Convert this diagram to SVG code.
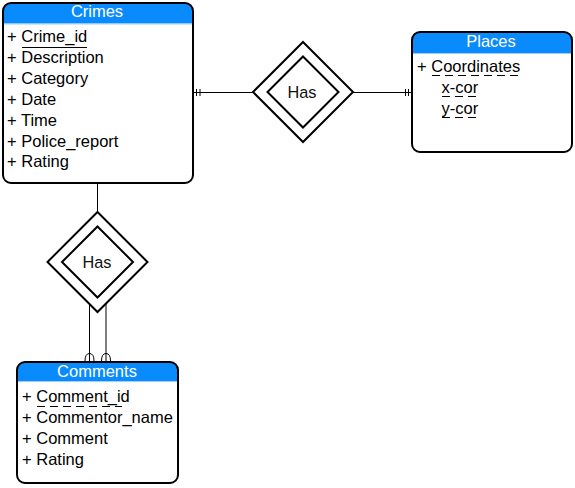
<svg xmlns="http://www.w3.org/2000/svg" width="575" height="488" viewBox="0 0 575 488">
<style>
.box{fill:none;stroke:#000;stroke-width:2}
.bg{fill:#fff}
.hdr{fill:#0a8bfd}
.sep{stroke:#9fd0ff;stroke-width:1}
.title{font-family:"Liberation Sans",Arial,sans-serif;font-size:16.5px;fill:#fff;text-anchor:middle}
.row{font-family:"Liberation Sans",Arial,sans-serif;font-size:16.5px;fill:#000}
.lbl{font-family:"Liberation Sans",Arial,sans-serif;font-size:16.3px;fill:#111;text-anchor:middle}
.dia{fill:#fff;stroke:#000;stroke-width:2}
.ln{fill:none;stroke:#000;stroke-width:1}
.ul{stroke:#000;stroke-width:1}
.dul{stroke:#000;stroke-width:1;stroke-dasharray:8 5}
</style>
<rect width="575" height="488" fill="#fff"/>
<g id="connectors">
<path class="ln" d="M193 92.5H253M196.5 89V96M200 89V96"/>
<path class="ln" d="M353 92.5H412M405.5 89V96M408.5 89V96"/>
<path class="ln" d="M97.5 183V212"/>
<path class="ln" d="M89.5 303V362M106 304V362"/>
<path class="ln" d="M85 361Q85 353.5 89.5 353.5Q94 353.5 94 361M101.5 361Q101.5 353.5 106 353.5Q110.5 353.5 110.5 361"/>
</g>
<g id="crimes">
<rect class="bg" x="3" y="3" width="190" height="180" rx="8"/>
<path class="hdr" d="M3 23.5V11Q3 3 11 3H185Q193 3 193 11V23.5Z"/>
<line class="sep" x1="3" y1="24" x2="193" y2="24"/>
<rect class="box" x="3" y="3" width="190" height="180" rx="8"/>
<text class="title" x="97" y="17">Crimes</text>
<text class="row" x="7" y="42.3">+ Crime_id</text>
<line class="ul" x1="22" y1="47.5" x2="87" y2="47.5"/>
<text class="row" x="7" y="63.1">+ Description</text>
<text class="row" x="7" y="84">+ Category</text>
<text class="row" x="7" y="104.8">+ Date</text>
<text class="row" x="7" y="125.7">+ Time</text>
<text class="row" x="7" y="146.5">+ Police_report</text>
<text class="row" x="7" y="167.4">+ Rating</text>
</g>
<g id="places">
<rect class="bg" x="412" y="32" width="160" height="120" rx="8"/>
<path class="hdr" d="M412 53V40Q412 32 420 32H564Q572 32 572 40V53Z"/>
<line class="sep" x1="412" y1="53.5" x2="572" y2="53.5"/>
<rect class="box" x="412" y="32" width="160" height="120" rx="8"/>
<text class="title" x="491" y="47">Places</text>
<text class="row" x="417" y="72">+ Coordinates</text>
<line class="dul" x1="432" y1="75.5" x2="520" y2="75.5"/>
<text class="row" x="441.5" y="93">x-cor</text>
<line class="dul" x1="442" y1="96.5" x2="480" y2="96.5"/>
<text class="row" x="441.5" y="114">y-cor</text>
<line class="dul" x1="442" y1="117.5" x2="480" y2="117.5"/>
</g>
<g id="comments">
<rect class="bg" x="17" y="362" width="161" height="121" rx="8"/>
<path class="hdr" d="M17 381V370Q17 362 25 362H170Q178 362 178 370V381Z"/>
<line class="sep" x1="17" y1="381.5" x2="178" y2="381.5"/>
<rect class="box" x="17" y="362" width="161" height="121" rx="8"/>
<text class="title" x="97" y="377">Comments</text>
<text class="row" x="22" y="401.5">+ Comment_id</text>
<line class="dul" x1="37" y1="406.5" x2="122" y2="406.5"/>
<text class="row" x="22" y="422.5">+ Commentor_name</text>
<text class="row" x="22" y="443.5">+ Comment</text>
<text class="row" x="22" y="464.5">+ Rating</text>
</g>
<g id="has1">
<polygon class="dia" points="303,42 353,92 303,142 253,92"/>
<polygon class="dia" points="303,56.5 338.5,92 303,127.5 267.5,92"/>
<text class="lbl" x="302" y="97.5">Has</text>
</g>
<g id="has2">
<polygon class="dia" points="97.5,212 147.5,262 97.5,312 47.5,262"/>
<polygon class="dia" points="97.5,226.5 133,262 97.5,297.5 62,262"/>
<text class="lbl" x="97" y="268">Has</text>
</g>
</svg>
